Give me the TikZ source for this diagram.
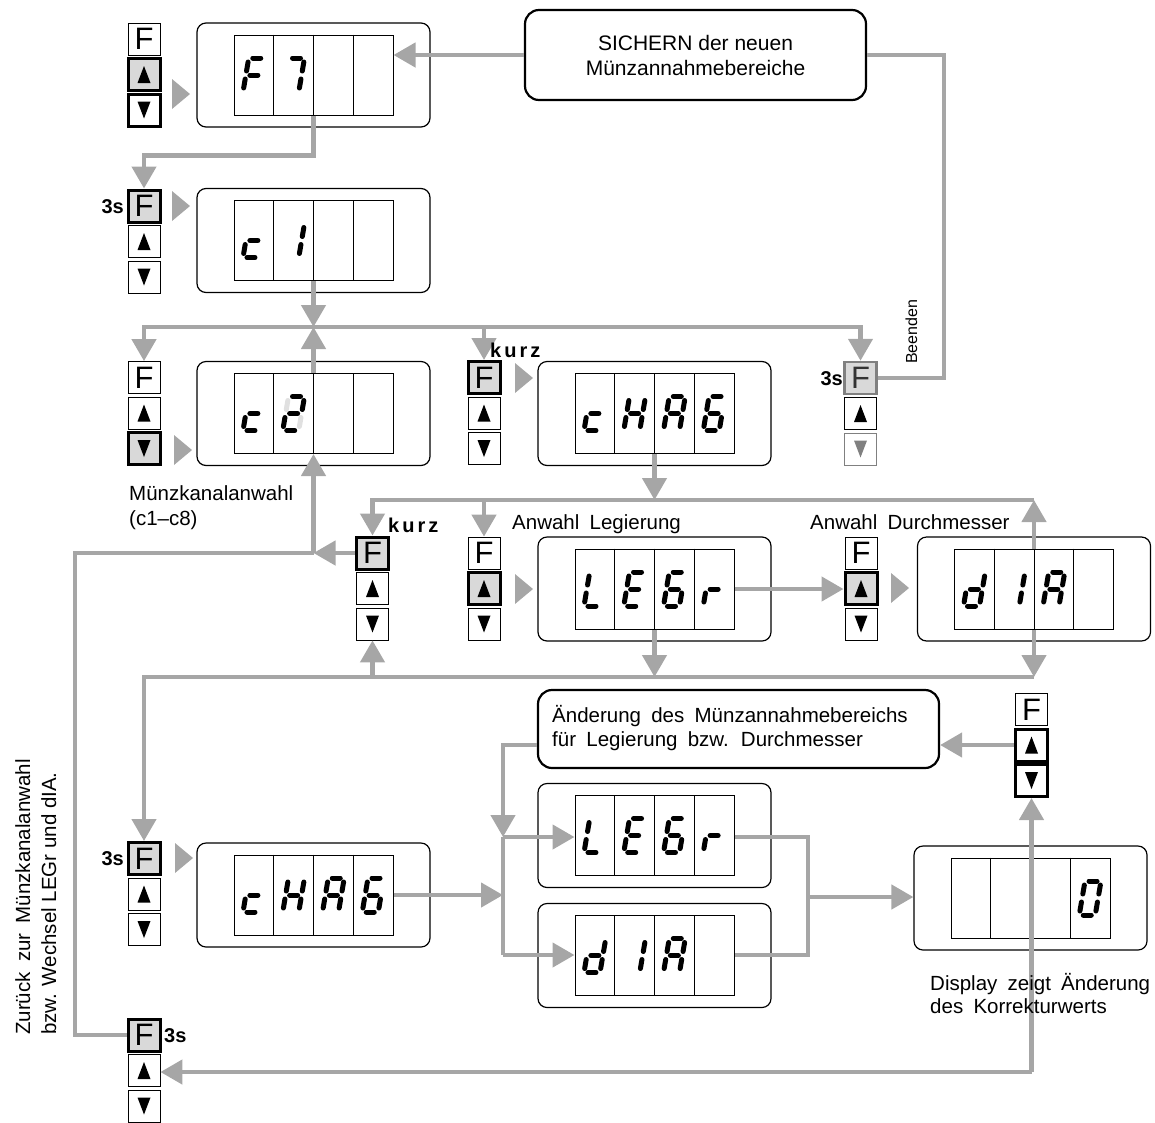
\documentclass[tikz,border=0pt]{standalone}
\usepackage{fontspec}
\setmainfont{Liberation Sans}
\usetikzlibrary{arrows.meta,calc}
\definecolor{lg}{RGB}{166,166,166}
\definecolor{hl}{RGB}{217,217,217}

\tikzset{
 conn/.style={draw=lg, line width=4.5pt},
 arr/.style={conn, -{Triangle[width=24pt,length=22pt]}},
 panel/.style={draw, rounded corners=9pt, line width=1.2pt, minimum width=233pt, minimum height=104pt, inner sep=0pt},
 disp/.style={draw, line width=1pt, minimum width=159pt, minimum height=80pt, inner sep=0pt},
 divl/.style={line width=1pt},
 btn/.style={draw, line width=0.8pt, fill=white, minimum size=32pt, inner sep=0pt, font={\fontsize{31}{31}\selectfont}},
 btnhi/.style={btn, fill=hl, line width=3pt},
 btnth/.style={btn, line width=3pt},
 btngr/.style={btn, fill=hl, draw=gray, line width=2.5pt, text=black!80},
 seg/.style={line width=5pt, line cap=round},
 lbl/.style={font={\fontsize{20.5}{25}\selectfont}, inner sep=0pt},
 wide/.style={font={\fontsize{20.5}{25}\selectfont\spaceskip=0.5em\relax}, inner sep=0pt},
 boldlbl/.style={font={\fontsize{20}{20}\selectfont\bfseries}, inner sep=0pt},
 box/.style={draw, rounded corners=14pt, line width=2.2pt, inner sep=0pt},
}

\newcommand{\SgA}[1][]{\draw[seg,#1] (-4,-17) -- (4,-17);}
\newcommand{\SgB}[1][]{\draw[seg,#1] (8,-13) -- (8,-4);}
\newcommand{\SgC}[1][]{\draw[seg,#1] (8,4) -- (8,13);}
\newcommand{\SgD}[1][]{\draw[seg,#1] (-4,17) -- (4,17);}
\newcommand{\SgE}[1][]{\draw[seg,#1] (-8,4) -- (-8,13);}
\newcommand{\SgF}[1][]{\draw[seg,#1] (-8,-13) -- (-8,-4);}
\newcommand{\SgG}[1][]{\draw[seg,#1] (-4,0) -- (4,0);}

\tikzset{
 dF/.pic={\begin{scope}[xslant=0.17]\SgA\SgE\SgF\SgG\end{scope}},
 d7/.pic={\begin{scope}[xslant=0.17]\SgA\SgB\SgC\end{scope}},
 dc/.pic={\begin{scope}[xslant=0.17]\SgD\SgE\SgG\end{scope}},
 d1/.pic={\begin{scope}[xslant=0.17]\SgB\SgC\end{scope}},
 dtwo/.pic={\begin{scope}[xslant=0.17]\SgF[draw=black!12]\SgC[draw=black!12]\SgA\SgB\SgG\SgE\SgD\end{scope}},
 dH/.pic={\begin{scope}[xslant=0.17]\SgB\SgC\SgE\SgF\SgG\end{scope}},
 dA/.pic={\begin{scope}[xslant=0.17]\SgA\SgB\SgC\SgE\SgF\SgG\end{scope}},
 d6/.pic={\begin{scope}[xslant=0.17]\SgA\SgF\SgG\SgE\SgD\SgC\end{scope}},
 dL/.pic={\begin{scope}[xslant=0.17]\SgF\SgE\SgD\end{scope}},
 dE/.pic={\begin{scope}[xslant=0.17]\SgA\SgF\SgG\SgE\SgD\end{scope}},
 dr/.pic={\begin{scope}[xslant=0.17]\SgE\SgG\end{scope}},
 dd/.pic={\begin{scope}[xslant=0.17]\SgB\SgC\SgD\SgE\SgG\end{scope}},
 d0/.pic={\begin{scope}[xslant=0.17]\SgA\SgB\SgC\SgD\SgE\SgF\end{scope}},
}

\newcommand{\dunit}[3]{%
 \node[panel] (#1) at (#2,#3) {};
 \node[disp] (#1i) at (#2,#3) {};
 \foreach \k in {-1,0,1} \draw[divl] ($(#1i.north)+(\k*39.75,0)$) -- ($(#1i.south)+(\k*39.75,0)$);
}
\newcommand{\dg}[3]{\pic at ($(#1i.center)+({#2*39.75-59.625},0)$) {#3};}

\newcommand{\bcol}[7]{%
 \node[#4] (#1F) at (#2,#3) {F};
 \node[#5] (#1U) at (#2,#3+35.5) {};
 \node[#6] (#1D) at (#2,#3+71) {};
 \fill ($(#1U.center)+(-6.5,8.5)$) -- ($(#1U.center)+(6.5,8.5)$) -- ($(#1U.center)+(0,-8.5)$) -- cycle;
 \fill[#7] ($(#1D.center)+(-6.5,-8.5)$) -- ($(#1D.center)+(6.5,-8.5)$) -- ($(#1D.center)+(0,8.5)$) -- cycle;
}
\newcommand{\gtri}[2]{\fill[lg] (#1,#2-15) -- (#1+18,#2) -- (#1,#2+15) -- cycle;}

\begin{document}
\begin{tikzpicture}[x=1pt,y=-1pt]
\useasboundingbox (0,0) rectangle (1155,1122);

% ---------- display units ----------
\dunit{P1}{313.5}{75}
\dunit{P2}{313.5}{240.5}
\dunit{P3}{313.5}{413.5}
\dunit{P4}{654.5}{413.5}
\dunit{P5}{654.5}{589}
\dunit{P6}{1034}{589}
\dunit{P7}{313.5}{895}
\dunit{P8}{654.5}{835.5}
\dunit{P9}{654.5}{955.5}
\dunit{P10}{1030.5}{898}

\dg{P1}{0}{dF}\dg{P1}{1}{d7}
\dg{P2}{0}{dc}\dg{P2}{1}{d1}
\dg{P3}{0}{dc}\dg{P3}{1}{dtwo}
\dg{P4}{0}{dc}\dg{P4}{1}{dH}\dg{P4}{2}{dA}\dg{P4}{3}{d6}
\dg{P5}{0}{dL}\dg{P5}{1}{dE}\dg{P5}{2}{d6}\dg{P5}{3}{dr}
\dg{P6}{0}{dd}\dg{P6}{1}{d1}\dg{P6}{2}{dA}
\dg{P7}{0}{dc}\dg{P7}{1}{dH}\dg{P7}{2}{dA}\dg{P7}{3}{d6}
\dg{P8}{0}{dL}\dg{P8}{1}{dE}\dg{P8}{2}{d6}\dg{P8}{3}{dr}
\dg{P9}{0}{dd}\dg{P9}{1}{d1}\dg{P9}{2}{dA}
\dg{P10}{3}{d0}

% ---------- text boxes ----------
\node[box, minimum width=341pt, minimum height=90pt, align=center, font={\fontsize{21}{25}\selectfont}] (S) at (695.5,55) {SICHERN der neuen\\Münzannahmebereiche};
\node[box, minimum width=401pt, minimum height=78pt] (Ae) at (738.5,729) {};
\node[wide, anchor=base west] (t5) at (552,722) {Änderung des Münzannahmebereichs};
\node[wide, anchor=base west] (t6) at (552,746) {für Legierung bzw. Durchmesser};

% ---------- coordinates ----------
\coordinate (J1) at (313.5,327);
\coordinate (J2) at (654.5,500);
\coordinate (J3) at (313.5,553);
\coordinate (J4) at (654.5,677);
\coordinate (J5) at (503,897);
\coordinate (J6) at (503,837);
\coordinate (J7) at (503,955);
\coordinate (J8) at (808,897);
\coordinate (J9) at (1031.5,1072);

% ---------- button columns ----------
\bcol{B1}{144}{39}{btn}{btnhi}{btnth}{black}
\bcol{B2}{144}{206}{btnhi}{btn}{btn}{black}
\bcol{B3}{144}{377.5}{btn}{btn}{btnhi}{black}
\bcol{B4}{484}{377.5}{btnhi}{btn}{btn}{black}
\bcol{B5}{860.5}{378}{btngr}{btn}{{btn,draw=gray}}{gray}
\bcol{B6}{372.5}{553}{btnhi}{btn}{btn}{black}
\bcol{B7}{484}{553}{btn}{btnhi}{btn}{black}
\bcol{B8}{861}{553}{btn}{btnhi}{btn}{black}
\bcol{B9}{1031.5}{709.5}{btn}{btnth}{btnth}{black}
\bcol{B10}{144}{858.5}{btnhi}{btn}{btn}{black}
\bcol{B11}{144}{1035}{btnhi}{btn}{btn}{black}

% ---------- connectors ----------
\draw[arr] (S.west) -- (S.west -| P1i.east);
\draw[conn] (B5F.east) -| ($(S.east)+(77,0)$) -- (S.east);
\draw[arr] (P1i.south) -- ++(0,40) -| (B2F.north);
\draw[arr] (J1) -| (B3F.north);
\draw[arr] (J1) -| (B4F.north);
\draw[arr] (J1) -| (B5F.north);
\draw[arr] (P2i.south) -- (J1);
\draw[arr] (P3i.north) -- (J1);
\draw[arr] (J2) -| (B6F.north);
\draw[arr] (J2) -| (B7F.north);
\draw[conn] (J2) -- (J2 -| P6i.north);
\draw[arr] (P4i.south) -- (J2);
\draw[arr] (P6i.north) -- (J2 -| P6i.north);
\draw[conn] (B11F.west) -| ($(J3)+(-238.5,0)$) -- (J3);
\draw[arr] (B6F.west) -- (J3);
\draw[arr] (J3) -- (P3i.south);
\draw[arr] (P5i.east) -- (P5i.east -| B8U.west);
\draw[arr] (J4) -| (B10F.north);
\draw[conn] (J4) -- (J4 -| P6i.south);
\draw[arr] (J4 -| B6D.south) -- (B6D.south);
\draw[arr] (P5i.south) -- (J4);
\draw[arr] (P6i.south) -- (J4 -| P6i.south);
\draw[arr] (P7i.east) -- (P7i.east -| J5);
\draw[arr] ($(Ae.west)+(0,16)$) -| (J6);
\draw[conn] (J6) -- (J7);
\draw[arr] (J6) -- (J6 -| P8i.west);
\draw[arr] (J7) -- (J7 -| P9i.west);
\draw[conn] (J6 -| P8i.east) -- (J6 -| J8) -- (J7 -| J8) -- (J7 -| P9i.east);
\draw[arr] (J8) -- (J8 -| P10.west);
\draw[arr] (J9) -- (B9D.south);
\draw[arr] (J9) -- (J9 -| B11U.east);
\draw[arr] (B9U.west) -- (B9U.west -| Ae.east);

% ---------- grey pointer triangles ----------
\gtri{172}{94}
\gtri{172}{206}
\gtri{174}{450}
\gtri{515}{378}
\gtri{515}{589}
\gtri{891}{588}
\gtri{175}{858}

% ---------- labels ----------
\node[lbl, anchor=base west] (t1) at (129,500) {Münzkanalanwahl};
\node[lbl, anchor=base west] (t2) at (129,525) {(c1–c8)};
\node[wide, anchor=base west] (t3) at (512,529) {Anwahl Legierung};
\node[wide, anchor=base west] (t4) at (810,529) {Anwahl Durchmesser};
\node[wide, anchor=base west] (t7) at (930,990) {Display zeigt Änderung};
\node[wide, anchor=base west] (t8) at (930,1013) {des Korrekturwerts};
\node[inner sep=0pt, font={\fontsize{16}{16}\selectfont}, rotate=90, anchor=base west] (t9) at (917,364) {Beenden};
\node[wide, rotate=90, anchor=base west] (t10) at (30,1035) {Zurück zur Münzkanalanwahl};
\node[lbl, rotate=90, anchor=base west] (t11) at (56,1035) {bzw. Wechsel LEGr und dIA.};
\node[boldlbl, anchor=base west] (k1) at (490,357) {k\kern3pt u\kern3pt r\kern3pt z};
\node[boldlbl, anchor=base west] (k2) at (388,532) {k\kern3pt u\kern3pt r\kern3pt z};
\node[boldlbl, anchor=base east] (s1) at (124,213) {3s};
\node[boldlbl, anchor=base east] (s2) at (843,385) {3s};
\node[boldlbl, anchor=base east] (s3) at (124,865.5) {3s};
\node[boldlbl, anchor=base west] (s4) at (164,1042) {3s};
\end{tikzpicture}
\end{document}
